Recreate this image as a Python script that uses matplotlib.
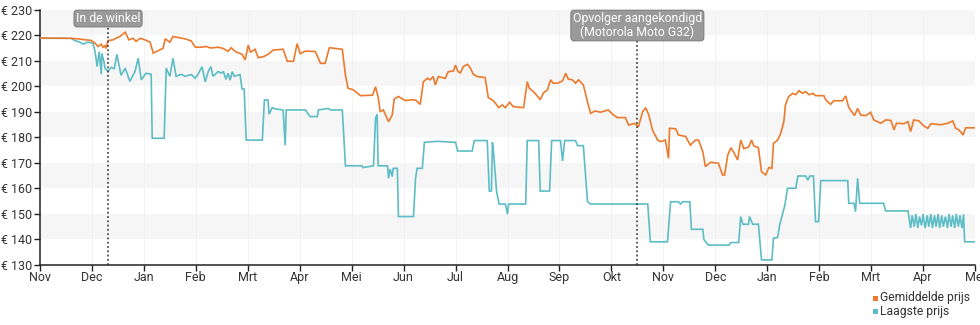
import matplotlib
matplotlib.use("Agg")
import matplotlib.pyplot as plt
from matplotlib.patches import Rectangle

plt.rcParams['font.family'] = ['Roboto', 'DejaVu Sans']

# Month axis: 0 = start of November, one unit per month
month_labels = ["Nov", "Dec", "Jan", "Feb", "Mrt", "Apr", "Mei", "Jun", "Jul", "Aug",
                "Sep", "Okt", "Nov", "Dec", "Jan", "Feb", "Mrt", "Apr", "Mei"]
price_ticks = [130, 140, 150, 160, 170, 180, 190, 200, 210, 220, 230]

# Average price (Gemiddelde prijs)
avg_x = [0.00, 0.60, 0.73, 0.87, 0.98, 1.06, 1.12, 1.18, 1.21, 1.25, 1.27, 1.31, 1.41, 1.46,
         1.54, 1.64, 1.71, 1.79, 1.85, 1.93, 2.02, 2.12, 2.18, 2.27, 2.37, 2.41, 2.50, 2.56,
         2.66, 2.79, 2.91, 2.99, 3.10, 3.20, 3.29, 3.43, 3.53, 3.62, 3.68, 3.76, 3.89, 3.95,
         4.01, 4.05, 4.14, 4.20, 4.30, 4.39, 4.49, 4.68, 4.76, 4.88, 4.95, 5.01, 5.11, 5.30,
         5.40, 5.49, 5.57, 5.82, 5.88, 5.93, 6.03, 6.17, 6.40, 6.46, 6.51, 6.55, 6.61, 6.71,
         6.78, 6.82, 6.90, 7.03, 7.17, 7.23, 7.32, 7.38, 7.46, 7.51, 7.57, 7.61, 7.67, 7.80,
         7.86, 7.96, 8.00, 8.04, 8.09, 8.15, 8.23, 8.29, 8.34, 8.42, 8.57, 8.63, 8.71, 8.77,
         8.83, 8.90, 8.96, 9.04, 9.11, 9.31, 9.38, 9.42, 9.50, 9.58, 9.63, 9.69, 9.77, 9.83,
         9.88, 9.96, 10.06, 10.12, 10.17, 10.25, 10.31, 10.37, 10.46, 10.54, 10.60, 10.69,
         10.79, 10.94, 11.04, 11.12, 11.27, 11.33, 11.45, 11.52, 11.60, 11.66, 11.72, 11.79,
         11.89, 11.95, 12.04, 12.10, 12.12, 12.24, 12.29, 12.43, 12.52, 12.62, 12.68, 12.76,
         12.81, 12.91, 13.06, 13.14, 13.18, 13.24, 13.30, 13.35, 13.43, 13.49, 13.55, 13.64,
         13.70, 13.74, 13.83, 13.89, 13.97, 14.03, 14.09, 14.12, 14.20, 14.26, 14.32, 14.35,
         14.41, 14.49, 14.55, 14.61, 14.68, 14.74, 14.80, 14.88, 14.93, 15.09, 15.13, 15.22,
         15.28, 15.45, 15.51, 15.57, 15.65, 15.68, 15.74, 15.80, 15.90, 15.99, 16.05, 16.19,
         16.28, 16.38, 16.44, 16.49, 16.63, 16.71, 16.76, 16.82, 16.92, 17.01, 17.09, 17.15,
         17.34, 17.48, 17.57, 17.63, 17.69, 17.77, 17.82, 18.00]
avg_price = [219, 218.9, 218.7, 218.3, 218.1, 217, 215.7, 216.6, 215.4, 216, 214.9, 218, 218.3, 218.9,
             219.6, 221.3, 218.3, 218.9, 217.7, 218.9, 218.3, 217.4, 213.1, 214, 215, 218.7, 217.4, 219.6,
             219.2, 218.7, 217.9, 215.4, 215.4, 215.7, 215.1, 215.4, 214.9, 213.8, 215.2, 213.7, 212.6, 210.4,
             216.3, 213.4, 214.6, 211.3, 211.7, 212.6, 214.3, 214.6, 209.9, 209.9, 216.8, 212.9, 213.9, 213.7,
             209.1, 209.1, 215.2, 214.6, 204.5, 199.3, 198.7, 196.4, 196.6, 199.9, 195.8, 190.1, 190.8, 186.2,
             188.8, 195.1, 196.1, 194.5, 194.8, 194.7, 193, 201.9, 203.2, 202.6, 203.9, 200.6, 203.9, 203.2,
             205.8, 206.1, 208.4, 206.1, 205.2, 207.8, 208.7, 207.1, 204.8, 203.9, 203.5, 195.6, 194.7, 193.4,
             191.7, 192.8, 191.7, 193.8, 192.1, 191.7, 201.9, 199.3, 198, 196.1, 194.8, 197.4, 198.7, 202.6,
             201.3, 201.3, 202.2, 205.2, 202.9, 202.6, 201.3, 202.6, 200.6, 194, 189.5, 190.4,
             189.9, 190.8, 188.8, 187.8, 187.8, 184.9, 185.5, 184.2, 190, 191.7, 188.8, 183,
             179, 178.4, 179, 171.8, 183.6, 183.4, 181, 180.4, 177, 179, 179, 174.4,
             168.6, 170.3, 169.9, 165.3, 165.3, 173.1, 176, 174.4, 171.2, 179, 175.6, 176.3,
             179, 176.7, 176, 166.6, 165.3, 168.2, 167.9, 177.7, 179, 181.6, 186.2, 192.7,
             196, 197.3, 196.8, 198.4, 197.3, 198, 196.8, 197.3, 196.4, 196.4, 194.7, 193,
             194.4, 194.4, 196.3, 191.7, 189.5, 188.6, 191.4, 188.8, 188.6, 189.9, 186.9, 185.6,
             186.9, 186.7, 183, 185.6, 185.4, 186.2, 182.3, 186.9, 186.5, 184.6, 183.6, 185.4,
             185, 185.6, 186.5, 183.6, 183, 181, 183.8, 183.8]

# Lowest price (Laagste prijs)
low_x = [0.00, 0.60, 0.67, 0.77, 0.83, 0.92, 1.02, 1.06, 1.10, 1.14, 1.18, 1.19, 1.23, 1.25,
         1.31, 1.37, 1.43, 1.48, 1.56, 1.64, 1.73, 1.83, 1.89, 1.95, 2.04, 2.14, 2.16, 2.39,
         2.43, 2.50, 2.56, 2.62, 2.72, 2.79, 2.91, 2.99, 3.04, 3.12, 3.18, 3.24, 3.29, 3.33,
         3.43, 3.49, 3.53, 3.58, 3.62, 3.66, 3.70, 3.74, 3.85, 3.89, 3.93, 3.97, 4.28, 4.32,
         4.39, 4.41, 4.47, 4.53, 4.68, 4.72, 4.74, 5.11, 5.20, 5.34, 5.36, 5.55, 5.59, 5.82,
         5.88, 6.20, 6.22, 6.42, 6.46, 6.49, 6.51, 6.69, 6.71, 6.74, 6.78, 6.80, 6.88, 6.90,
         7.19, 7.23, 7.26, 7.36, 7.40, 7.65, 8.00, 8.04, 8.32, 8.36, 8.61, 8.65, 8.69, 8.71,
         8.73, 8.79, 8.84, 8.96, 9.00, 9.02, 9.35, 9.38, 9.60, 9.63, 9.81, 9.85, 10.02, 10.06,
         10.10, 10.31, 10.35, 10.46, 10.54, 10.60, 11.70, 11.75, 12.08, 12.14, 12.29, 12.33,
         12.37, 12.51, 12.54, 12.76, 12.78, 12.87, 13.26, 13.30, 13.45, 13.49, 13.53, 13.64,
         13.66, 13.72, 13.83, 13.89, 14.09, 14.12, 14.20, 14.24, 14.34, 14.39, 14.55, 14.59,
         14.74, 14.78, 14.82, 14.89, 14.93, 14.99, 15.03, 15.55, 15.57, 15.67, 15.70, 15.74,
         15.78, 16.24, 16.28, 16.71,
         16.72, 16.76, 16.79, 16.83, 16.86, 16.90, 16.93, 16.97, 17.00, 17.04, 17.08, 17.11,
         17.15, 17.18, 17.22, 17.25, 17.29, 17.32, 17.36, 17.39, 17.43, 17.47, 17.50, 17.54,
         17.57, 17.61, 17.64, 17.68, 17.71, 17.75, 17.78, 17.80, 18.00]
low_price = [218.9, 218.9, 218, 217.4, 216.6, 217.4, 217, 213.7, 207.8, 213.7, 204.8, 213, 209.8, 207.2,
             205.9, 207.5, 207, 212.6, 204.4, 207.2, 202, 205.9, 211.1, 202.6, 205.2, 204.8, 179.7, 179.7,
             207.2, 204, 211.1, 204, 204.8, 204, 204.7, 203.3, 204.7, 207.8, 201.8, 205.9, 207.8, 204,
             205.9, 205.2, 205.9, 202.8, 205.2, 202.5, 205.8, 204, 204.7, 199, 199, 179, 179, 194.7,
             194.7, 189.1, 191.7, 191.2, 190.8, 177, 190.8, 190.8, 188.2, 188.2, 190.8, 191.4, 190.8, 190.8,
             168.9, 168.9, 168.2, 168.9, 187.5, 189.1, 168.9, 168.9, 164, 167.6, 164.7, 167.9, 167.9, 149,
             149, 164, 167.9, 167.9, 178.1, 178.5, 178.1, 174.7, 174.7, 178.8, 178.8, 159, 159, 178.1,
             174.5, 158.8, 153.9, 153.9, 149.9, 153.9, 153.9, 178.8, 178.8, 159, 159, 178.8, 178.8, 170.8,
             178.8, 178.8, 176.8, 176.8, 154.8, 153.9, 153.9, 139.1, 139.1, 154.8, 154.8, 153.9,
             154.8, 154.8, 144, 144, 140, 137.8, 137.8, 138.8, 138.8, 149, 146, 146,
             149, 146, 146, 132, 132, 140.5, 140.8, 145.7, 153.5, 160.1, 160.1, 164.9,
             164.9, 163.3, 164.9, 164.9, 147, 147, 163.1, 163.1, 154.2, 154.2, 150.9, 164,
             154.2, 154.2, 151.2, 151.2,
             150, 144.5, 149.5, 145, 150, 144.5, 149, 145.5, 150, 144.5, 149.5, 145,
             150, 144.5, 149.5, 145, 150, 144.5, 149.5, 145, 149, 144.5, 150, 145,
             149.5, 144.5, 150, 145, 149.5, 144.5, 149.9, 139.1, 139.1]

# Event markers on the time axis
event_x = [1.31, 11.50]
event_labels = ["In de winkel", "Opvolger aangekondigd\n(Motorola Moto G32)"]

series_labels = ["Gemiddelde prijs", "Laagste prijs"]
orange = "#ec7a2c"
teal = "#5dbdc6"
text_col = "#333333"

fig = plt.figure(figsize=(9.8, 3.25), dpi=100)
ax = fig.add_axes([40 / 980, 1 - 265 / 325, 935 / 980, 255 / 325])

ax.set_xlim(0, 18)
ax.set_ylim(130, 230)

# Alternating horizontal bands
for lo in price_ticks[1::2]:
    ax.axhspan(lo, lo + 10, color="#f6f6f6", lw=0, zorder=0)
for m in range(1, 18):
    ax.axvline(m, color="#f0f0f0", lw=0.6, zorder=0.5)

ax.plot(low_x, low_price, color=teal, lw=1.2, zorder=3, solid_joinstyle="miter")
ax.plot(avg_x, avg_price, color=orange, lw=1.2, zorder=4, solid_joinstyle="miter")

for ex, lab in zip(event_x, event_labels):
    ax.axvline(ex, color="#333333", lw=1.1, ls=(0, (1.2, 1.6)), zorder=5)
    ax.text(ex, 229.2, lab, ha="center", va="top", color="white", fontsize=8.8,
            linespacing=1.05, zorder=6,
            bbox=dict(boxstyle="round,pad=0.15,rounding_size=0.25", fc="#9a9a9a",
                      ec="#7f7f7f", lw=0.8))

ax.set_xticks(range(len(month_labels)))
ax.set_xticklabels(month_labels)
ax.set_yticks(price_ticks)
ax.set_yticklabels([f"€ {v}" for v in price_ticks])
ax.tick_params(axis="both", colors="#222222", labelcolor=text_col, labelsize=9,
               length=4, width=1, pad=1.5)
ax.tick_params(axis="x", pad=0.5)

for side in ("top", "right"):
    ax.spines[side].set_visible(False)
for side in ("left", "bottom"):
    ax.spines[side].set_color("#222222")
    ax.spines[side].set_linewidth(1.1)

# Legend drawn below the plot at the right
for i, (lab, col) in enumerate(zip(series_labels, [orange, teal])):
    yc = 1 - (298 + 13 * i) / 325
    fig.add_artist(Rectangle((873 / 980, yc - 2.5 / 325), 5 / 980, 5 / 325,
                             transform=fig.transFigure, fc=col, ec="none"))
    fig.text(880 / 980, yc, lab, ha="left", va="center", fontsize=8.7, color=text_col)

fig.savefig("out.png", dpi=100)
